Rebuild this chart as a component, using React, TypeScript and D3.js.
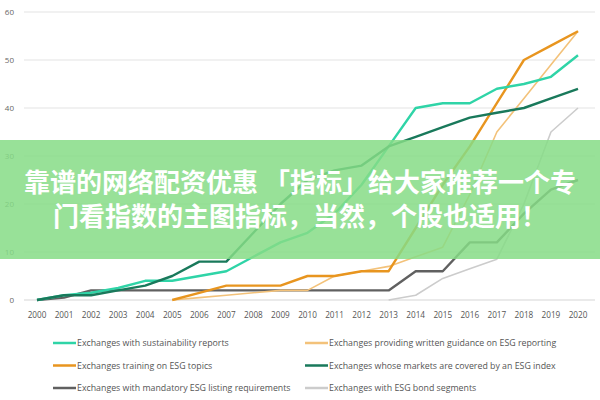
import React from "react";
import * as d3 from "d3";

const years = [2000, 2001, 2002, 2003, 2004, 2005, 2006, 2007, 2008, 2009, 2010, 2011, 2012, 2013, 2014, 2015, 2016, 2017, 2018, 2019, 2020];
const yTicks = [0, 10, 20, 30, 40, 50, 60];

const sustainability = [0, 1, 1.5, 2.5, 4, 4, 5, 6, 9, 12, 14, 18, 24, 32, 40, 41, 41, 44, 45, 46.5, 51];
const training = [null, null, null, null, null, 0, 1.5, 3, 3, 3, 5, 5, 6, 6, 15, 24, 32, 41, 50, 53, 56];
const guidance = [null, null, null, null, null, 0, 0.5, 1, 1.5, 2, 2, 5, 6, 7, 9, 11, 22, 35, 42, 49, 56];
const esgIndex = [0, 1, 1, 2, 3, 5, 8, 8, 14, 20, 25, 27, 28, 32, 34, 36, 38, 39, 40, 42, 44];
const mandatory = [0, 0.5, 2, 2, 2, 2, 2, 2, 2, 2, 2, 2, 2, 2, 6, 6, 12, 12, 18, 23, 25];
const bond = [null, null, null, null, null, null, null, null, null, null, null, null, null, 0, 1, 4.5, 6.5, 8.5, 20, 35, 40];

const seriesNames = [
  "Exchanges with sustainability reports",
  "Exchanges providing written guidance on ESG reporting",
  "Exchanges training on ESG topics",
  "Exchanges whose markets are covered by an ESG index",
  "Exchanges with mandatory ESG listing requirements",
  "Exchanges with ESG bond segments",
];

const bannerLines = ["靠谱的网络配资优惠 「指标」给大家推荐一个专", "门看指数的主图指标，当然，个股也适用！"];

const series = [
  { name: seriesNames[0], values: sustainability, color: "#2fd4a7", width: 2.4 },
  { name: seriesNames[1], values: guidance, color: "#f3c27a", width: 1.6 },
  { name: seriesNames[2], values: training, color: "#e8951f", width: 2.4 },
  { name: seriesNames[3], values: esgIndex, color: "#19795b", width: 2.4 },
  { name: seriesNames[4], values: mandatory, color: "#606060", width: 2.4 },
  { name: seriesNames[5], values: bond, color: "#cccccc", width: 1.6 },
];

const drawOrder = [5, 4, 1, 2, 0, 3];

export default function App() {
  const x = d3.scaleLinear().domain([2000, 2020]).range([37, 578]);
  const y = d3.scaleLinear().domain([0, 60]).range([300, 12]);

  const line = d3
    .line<number | null>()
    .defined((d) => d !== null)
    .x((_, i) => x(years[i]))
    .y((d) => y(d as number));

  const font = "'Open Sans', 'Liberation Sans', sans-serif";

  return (
    <svg width={600} height={400} style={{ position: "absolute", left: 0, top: 0, background: "#fff" }}>
      {/* grid */}
      {yTicks.map((t) => (
        <g key={t}>
          <line x1={24} x2={595} y1={y(t)} y2={y(t)} stroke={t === 0 ? "#d6d6d6" : "#e3e3e3"} strokeWidth={1.2} />
          <text x={14} y={y(t) + 3} textAnchor="end" fontSize={8} fill="#666" fontFamily={font}>
            {t}
          </text>
        </g>
      ))}
      {years.map((yr) => (
        <text key={yr} x={x(yr)} y={318} textAnchor="middle" fontSize={8.2} fill="#555" fontFamily={font}>
          {yr}
        </text>
      ))}

      {/* lines */}
      {drawOrder.map((i) => (
        <path
          key={series[i].name}
          d={line(series[i].values) || ""}
          fill="none"
          stroke={series[i].color}
          strokeWidth={series[i].width}
          strokeLinejoin="round"
        />
      ))}

      {/* legend */}
      {series.map((s, i) => {
        const col = i % 2;
        const row = Math.floor(i / 2);
        const lx = col === 0 ? 53 : 305;
        const ly = 343 + row * 22.5;
        return (
          <g key={s.name}>
            <line x1={lx} x2={lx + 23} y1={ly} y2={ly} stroke={s.color} strokeWidth={2.5} />
            <text x={lx + 24} y={ly + 3} fontSize={8.8} fill="#555" fontFamily={font}>
              {s.name}
            </text>
          </g>
        );
      })}

      {/* overlay banner */}
      <rect x={0} y={140} width={600} height={119} fill="#86dc86" opacity={0.85} />
      {bannerLines.map((t, i) => (
        <text
          key={i}
          x={300}
          y={192 + i * 34}
          textAnchor="middle"
          fontSize={26}
          fontWeight="bold"
          fill="#fff"
          fontFamily="'Noto Sans CJK SC', sans-serif"
        >
          {t}
        </text>
      ))}
    </svg>
  );
}
